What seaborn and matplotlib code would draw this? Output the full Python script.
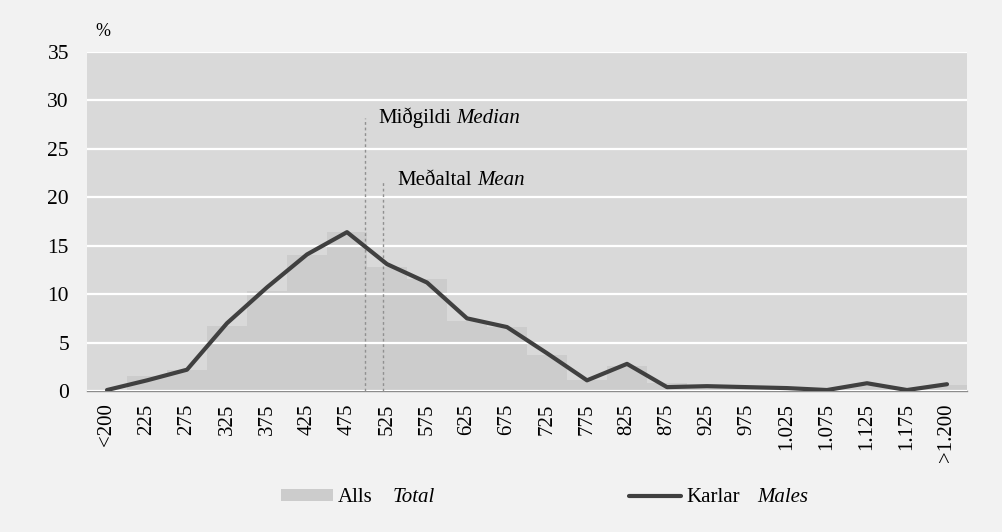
import matplotlib
matplotlib.use('Agg')
import matplotlib.pyplot as plt
import numpy as np
import pandas as pd
import seaborn as sns
from matplotlib.patches import Patch
from matplotlib.lines import Line2D

# Tekjubil / income bands
bands = ['<200', '225', '275', '325', '375', '425', '475', '525', '575', '625', '675',
         '725', '775', '825', '875', '925', '975', '1.025', '1.075', '1.125', '1.175', '>1.200']
# Alls (Total), %
total = [0.1, 1.6, 2.2, 6.7, 10.3, 14.0, 16.4, 12.8, 11.6, 7.2, 6.6,
         3.7, 1.1, 2.6, 0.8, 0.6, 0.5, 0.4, 0.3, 0.5, 0.2, 0.6]
# Karlar (Males), %
males = [0.1, 1.1, 2.2, 7.0, 10.7, 14.1, 16.4, 13.1, 11.2, 7.5, 6.6,
         3.9, 1.1, 2.8, 0.4, 0.5, 0.4, 0.3, 0.1, 0.8, 0.1, 0.7]
median_pos, median_top = 6.45, 28.2
mean_pos, mean_top = 6.9, 21.7

sns.set_style('white')
plt.rcParams['font.family'] = ['Liberation Serif', 'DejaVu Serif']
plt.rcParams['font.size'] = 15
plt.rcParams['text.color'] = 'black'
plt.rcParams['xtick.color'] = 'black'
plt.rcParams['ytick.color'] = 'black'

df = pd.DataFrame({'band': bands, 'total': total, 'males': males, 'pos': np.arange(len(bands))})

fig = plt.figure(figsize=(10.02, 5.32), dpi=100, facecolor='#f2f2f2')
ax = fig.add_axes([87 / 1002, 1 - 391 / 532, 880 / 1002, 339 / 532])
ax.set_facecolor('#d9d9d9')

sns.barplot(data=df, x='band', y='total', color='#cccccc', saturation=1,
            width=1, linewidth=0, ax=ax, zorder=1)
sns.lineplot(data=df, x='pos', y='males', color='#404040', linewidth=3,
             ax=ax, legend=False, zorder=3)

# median / mean markers
ax.plot([median_pos, median_pos], [0, median_top], ls=(0, (2, 2)), lw=1, color='#909090', zorder=2.6)
ax.plot([mean_pos, mean_pos], [0, mean_top], ls=(0, (2, 2)), lw=1, color='#909090', zorder=2.6)
t1 = ax.text(6.78, 28.2, 'Miðgildi', va='center', ha='left', fontsize=15)
ax.annotate('Median', xy=(1, 0), xycoords=t1, xytext=(4, 0), textcoords='offset points',
            va='bottom', ha='left', fontsize=15, style='italic')
t2 = ax.text(7.25, 21.7, 'Meðaltal', va='center', ha='left', fontsize=15)
ax.annotate('Mean', xy=(1, 0), xycoords=t2, xytext=(4, 0), textcoords='offset points',
            va='bottom', ha='left', fontsize=15, style='italic')

ax.set_xlim(-0.5, len(bands) - 0.5)
ax.set_ylim(0, 35)
ax.set_yticks(range(0, 36, 5))
ax.set_xlabel('')
ax.set_ylabel('')
ax.set_axisbelow(False)
ax.grid(axis='y', color='white', linewidth=1.6)
ax.grid(axis='x', visible=False)
for s in ['top', 'right', 'left']:
    ax.spines[s].set_visible(False)
ax.spines['bottom'].set_color('#8c8c8c')
ax.spines['bottom'].set_linewidth(1)
ax.tick_params(axis='y', length=0, pad=13, labelsize=15.5)
ax.tick_params(axis='x', length=0, pad=9, labelsize=15, rotation=90)
for lab in ax.get_xticklabels():
    lab.set_va('top')

fig.text(103 / 1002, 1 - 31 / 532, '%', ha='center', va='center', fontsize=13)

handles = [Patch(facecolor='#cccccc', edgecolor='none'),
           Line2D([0], [0], color='#404040', lw=3, solid_capstyle='round')]
leg = fig.legend(handles, ['Alls', 'Karlar'], loc='center left',
                 bbox_to_anchor=(281 / 1002, 1 - 498 / 532), ncol=2, frameon=False,
                 borderpad=0, borderaxespad=0, handlelength=2.5, handleheight=0.53,
                 handletextpad=0.24, columnspacing=12.3, fontsize=15)
fig.text(393 / 1002, 1 - 498 / 532, 'Total', ha='left', va='center', fontsize=15, style='italic')
fig.text(757 / 1002, 1 - 497 / 532, 'Males', ha='left', va='center', fontsize=15, style='italic')

fig.savefig('out.png', dpi=100, facecolor=fig.get_facecolor())
